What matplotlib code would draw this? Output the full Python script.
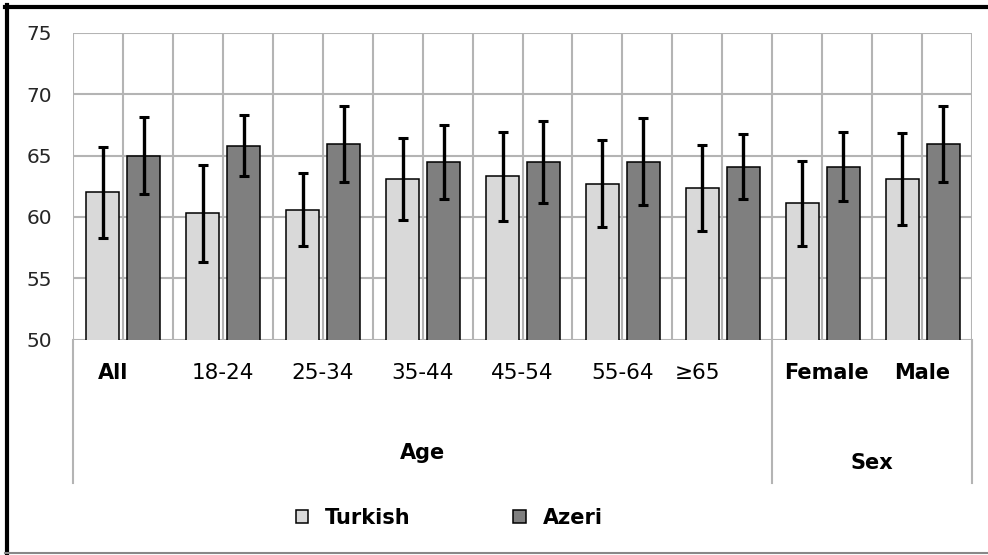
import matplotlib
matplotlib.use("Agg")
import matplotlib.pyplot as plt
from matplotlib.lines import Line2D
from matplotlib.patches import Patch
import matplotlib.transforms as mtransforms

# Mean scores by group, with error bar half-widths
categories = ["All", "18-24", "25-34", "35-44", "45-54", "55-64", "\u226565", "Female", "Male"]
bold_labels = ["All", "Female", "Male"]
turkish = [62.0, 60.3, 60.6, 63.1, 63.3, 62.7, 62.35, 61.1, 63.1]
turkish_err = [3.7, 3.95, 3.0, 3.35, 3.6, 3.55, 3.5, 3.45, 3.75]
azeri = [65.0, 65.8, 65.95, 64.5, 64.5, 64.5, 64.1, 64.1, 65.95]
azeri_err = [3.15, 2.5, 3.1, 3.0, 3.35, 3.55, 2.65, 2.8, 3.1]
groups = [("Age", 0, 6), ("Sex", 7, 8)]
series_names = ["Turkish", "Azeri"]
yticks = [50, 55, 60, 65, 70, 75]

W, H = 988, 555
fig = plt.figure(figsize=(W / 100, H / 100), dpi=100)
ax = fig.add_axes([73 / W, 1 - 339.5 / H, (972 - 73) / W, (339.5 - 33) / H])

grid_c = "#b4b4b4"
x = list(range(len(categories)))
bw = 0.33
err_kw = dict(ecolor="black", elinewidth=2.4, capsize=3.5, capthick=2.2)
ax.bar([i - 0.2 for i in x], turkish, bw, color="#d9d9d9",
       edgecolor="black", linewidth=1.1, zorder=3)
ax.bar([i + 0.21 for i in x], azeri, bw, color="#7f7f7f",
       edgecolor="black", linewidth=1.1, zorder=3)
ax.errorbar([i - 0.2 for i in x], turkish, yerr=turkish_err, fmt="none", zorder=4, **err_kw)
ax.errorbar([i + 0.21 for i in x], azeri, yerr=azeri_err, fmt="none", zorder=4, **err_kw)

ax.set_ylim(50, 75)
ax.set_xlim(-0.5, len(categories) - 0.5)
ax.set_yticks(yticks)
ax.set_yticklabels([str(v) for v in yticks], fontsize=14.5, color="#262626")
ax.tick_params(axis="y", length=0, pad=15)
ax.set_xticks([])
for v in yticks:
    ax.axhline(v, color=grid_c, lw=1.5, zorder=1)
for k in range(2 * len(categories) + 1):
    ax.axvline(-0.5 + k * 0.5, color=grid_c, lw=1.5, zorder=1)
for s in ax.spines.values():
    s.set_visible(False)

# Multi-level category axis below the plot
trans = mtransforms.blended_transform_factory(ax.transData, fig.transFigure)
y_top = 1 - 339.5 / H
y_bot = 1 - 483 / H
for xv in [-0.5, 6.5, len(categories) - 0.5]:
    fig.add_artist(Line2D([xv, xv], [y_top, y_bot], transform=trans,
                          color=grid_c, lw=1.5))
label_shift = {"\u226565": -0.25, "All": -0.1, "Female": 0.04}
for i, c in enumerate(categories):
    is_bold = c in bold_labels
    fig.text(i + label_shift.get(c, 0.0), 1 - 373 / H, c,
             transform=trans, ha="center", va="center",
             fontsize=15.5 if not is_bold else 15,
             fontweight="bold" if is_bold else "normal", color="black")
group_y = {"Age": 1 - 453 / H, "Sex": 1 - 463 / H}
for name, a, b in groups:
    fig.text((a + b) / 2, group_y[name], name, transform=trans, ha="center",
             va="center", fontsize=15, fontweight="bold")

# Legend
handles = [Patch(facecolor="#d9d9d9", edgecolor="black", lw=1.1),
           Patch(facecolor="#7f7f7f", edgecolor="black", lw=1.1)]
fig.legend(handles, series_names, loc="center", bbox_to_anchor=(449 / W, 1 - 518 / H),
           ncol=2, frameon=False, prop=dict(size=15, weight="bold"),
           handlelength=0.62, handleheight=0.62, handletextpad=0.8,
           columnspacing=4.9, borderpad=0)

# Outer frame: heavy top and left edges, thin bottom edge
fig.add_artist(Line2D([5 / W, 1], [1 - 6.5 / H, 1 - 6.5 / H], color="black", lw=3))
fig.add_artist(Line2D([6.5 / W, 6.5 / W], [0, 1 - 5 / H], color="black", lw=3))
fig.add_artist(Line2D([5 / W, 1], [1 - 552.5 / H, 1 - 552.5 / H], color="#888888", lw=1.5))

fig.savefig("out.png", dpi=100, facecolor="white")
